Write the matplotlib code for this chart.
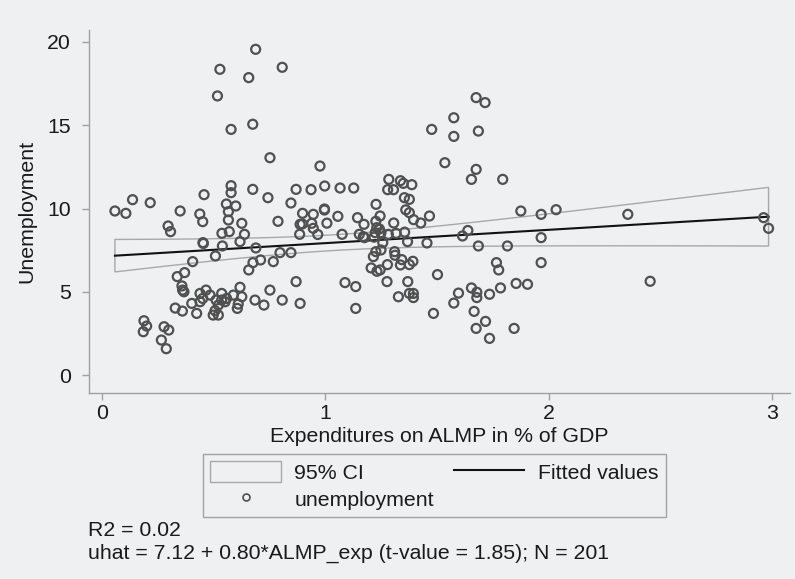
import numpy as np
import matplotlib
matplotlib.use("Agg")
import matplotlib.pyplot as plt
from matplotlib.patches import Polygon, Rectangle
from matplotlib.lines import Line2D

# ---- data ----
almp_exp = [
    0.688, 0.528, 0.657, 0.517, 0.675, 0.578, 0.752, 0.578, 0.578, 0.675,
    0.457, 0.137, 0.216, 0.743, 0.058, 0.107, 0.350, 0.557, 0.599, 0.438,
    0.451, 0.566, 0.566, 0.626, 0.296, 0.307, 0.537, 0.570, 0.638, 0.618,
    0.452, 0.454, 0.539, 0.689, 0.508, 0.406, 0.676, 0.710, 0.657, 0.337,
    0.370, 0.358, 0.361, 0.367, 0.752, 0.466, 0.439, 0.451, 0.439, 0.402,
    0.484, 0.536, 0.511, 0.536, 0.558, 0.521, 0.506, 0.498, 0.521, 0.424,
    0.618, 0.588, 0.626, 0.610, 0.606, 0.685, 0.725, 0.328, 0.360, 0.188,
    0.200, 0.185, 0.278, 0.299, 0.266, 0.288, 0.767, 0.797, 0.788, 0.807,
    0.807, 1.476, 0.976, 0.869, 0.936, 0.997, 1.066, 1.127, 0.846, 0.898,
    0.946, 0.996, 0.996, 1.056, 1.144, 1.227, 1.284, 1.279, 1.305, 1.336,
    1.349, 1.387, 1.354, 1.376, 1.360, 1.376, 1.395, 1.427, 1.466, 0.887,
    0.897, 0.939, 0.946, 1.007, 0.885, 0.966, 1.075, 1.152, 1.175, 1.173,
    1.226, 1.245, 1.230, 1.242, 1.249, 1.223, 1.282, 1.306, 1.317, 1.355,
    1.170, 1.218, 1.368, 1.455, 1.257, 1.249, 1.226, 1.215, 1.310, 1.312,
    1.342, 1.392, 1.205, 1.245, 1.231, 1.278, 1.336, 1.376, 1.502, 0.846,
    0.869, 1.088, 1.136, 1.276, 1.369, 0.887, 1.136, 1.327, 1.376, 1.394,
    1.394, 1.484, 1.675, 1.715, 1.575, 1.575, 1.685, 1.535, 1.675, 1.654,
    1.794, 1.875, 1.966, 2.033, 2.354, 1.638, 1.614, 1.685, 1.815, 1.966,
    1.766, 1.776, 1.966, 1.854, 1.905, 1.596, 1.654, 1.678, 1.678, 1.735,
    1.784, 1.575, 1.666, 1.717, 1.675, 1.845, 1.735, 2.962, 2.984, 2.454,
    0.551,
]
unemployment = [
    19.56, 18.36, 17.86, 16.76, 15.06, 14.75, 13.05, 11.37, 10.95, 11.15,
    10.83, 10.53, 10.35, 10.65, 9.85, 9.71, 9.85, 10.27, 10.15, 9.67,
    9.21, 9.81, 9.31, 9.11, 8.95, 8.61, 8.51, 8.61, 8.45, 8.01,
    7.95, 7.90, 7.75, 7.63, 7.15, 6.81, 6.75, 6.91, 6.31, 5.91,
    6.15, 5.35, 5.10, 5.00, 5.10, 5.10, 4.90, 4.60, 4.40, 4.30,
    4.80, 4.90, 4.50, 4.50, 4.60, 4.20, 3.86, 3.60, 3.60, 3.70,
    5.27, 4.80, 4.70, 4.26, 4.00, 4.50, 4.20, 4.02, 3.84, 3.26,
    2.94, 2.60, 2.90, 2.70, 2.10, 1.58, 6.81, 7.35, 9.23, 18.48,
    4.50, 14.75, 12.55, 11.15, 11.13, 11.35, 11.23, 11.23, 10.33, 9.71,
    9.65, 9.91, 9.97, 9.53, 9.45, 10.25, 11.75, 11.13, 11.13, 11.67,
    11.51, 11.43, 10.65, 10.55, 9.92, 9.75, 9.33, 9.13, 9.55, 9.05,
    9.07, 9.11, 8.81, 9.12, 8.45, 8.44, 8.45, 8.45, 8.25, 9.05,
    9.23, 9.55, 8.85, 8.77, 8.55, 8.55, 8.45, 9.13, 8.51, 8.58,
    8.31, 8.28, 8.01, 7.93, 7.95, 7.51, 7.41, 7.11, 7.41, 7.19,
    6.93, 6.83, 6.43, 6.31, 6.23, 6.63, 6.61, 6.63, 6.03, 7.35,
    5.61, 5.55, 5.31, 5.61, 5.61, 4.30, 4.00, 4.70, 4.90, 4.90,
    4.65, 3.70, 16.66, 16.36, 15.45, 14.33, 14.65, 12.75, 12.35, 11.75,
    11.75, 9.85, 9.65, 9.93, 9.65, 8.68, 8.35, 7.75, 7.75, 8.25,
    6.75, 6.31, 6.75, 5.50, 5.45, 4.92, 5.23, 4.97, 4.65, 4.85,
    5.23, 4.32, 3.82, 3.22, 2.80, 2.80, 2.20, 9.45, 8.81, 5.63,
    4.40,
]
intercept = 7.12
slope = 0.80
x_ticks = [0, 1, 2, 3]
y_ticks = [0, 5, 10, 15, 20]
note_lines = ["R2 = 0.02",
              "uhat = 7.12 + 0.80*ALMP_exp (t-value = 1.85); N = 201"]

x = np.array(almp_exp)
y = np.array(unemployment)
n = len(x)

# fitted line and 95% CI of the mean prediction
xg = np.linspace(x.min(), x.max(), 200)
fit = intercept + slope * xg
resid = y - (intercept + slope * x)
s = np.sqrt(np.sum(resid ** 2) / (n - 2))
sxx = np.sum((x - x.mean()) ** 2)
se = s * np.sqrt(1.0 / n + (xg - x.mean()) ** 2 / sxx)
tcrit = 1.972
lo = fit - tcrit * se
hi = fit + tcrit * se

BG = "#eff0f2"
TXT = "#1a1a1a"
FONT = "Liberation Sans"
FS = 15.3
plt.rcParams["font.family"] = [FONT, "DejaVu Sans"]

fig = plt.figure(figsize=(7.95, 5.79), dpi=100, facecolor=BG)
ax = fig.add_axes([89 / 795, 1 - 393 / 579, (790 - 89) / 795, (393 - 30) / 579])
ax.set_facecolor(BG)

poly = Polygon(np.column_stack([np.r_[xg, xg[::-1]], np.r_[hi, lo[::-1]]]),
               closed=True, facecolor="none", edgecolor="#a8a8a8", lw=1.0, zorder=2)
ax.add_patch(poly)
ax.plot(xg, fit, color="#111111", lw=1.5, zorder=3)
ax.scatter(x, y, s=42, facecolors="none", edgecolors="#505050", linewidths=1.6, zorder=4)

ax.set_xlim(-0.058, 3.08)
ax.set_ylim(-1.08, 20.72)
ax.set_xticks(x_ticks)
ax.set_yticks(y_ticks)
ax.set_xticklabels([str(v) for v in x_ticks])
ax.set_yticklabels([str(v) for v in y_ticks])
for sp in ["top", "right"]:
    ax.spines[sp].set_visible(False)
for sp in ["left", "bottom"]:
    ax.spines[sp].set_color("#a0a0a0")
    ax.spines[sp].set_linewidth(1.0)
ax.tick_params(axis="both", direction="out", length=5, width=1.0, color="#a0a0a0",
               labelsize=FS, labelcolor=TXT)
ax.tick_params(axis="y", pad=8)
ax.tick_params(axis="x", pad=3)
ax.set_xlabel("Expenditures on ALMP in % of GDP", fontsize=FS, color=TXT, labelpad=3)
ax.set_ylabel("Unemployment", fontsize=FS, color=TXT, labelpad=8)

h_ci = Rectangle((0, 0), 1, 1, facecolor="none", edgecolor="#a8a8a8", lw=1.0)
h_pt = Line2D([], [], marker="o", ls="none", markersize=5, markerfacecolor="none",
              markeredgecolor="#505050", markeredgewidth=1.2)
h_fit = Line2D([], [], color="#111111", lw=1.5)
leg = fig.legend([h_ci, h_pt, h_fit], ["95% CI", "unemployment", "Fitted values"],
                 ncol=2, loc="upper left", bbox_to_anchor=(203 / 795, 1 - 454 / 579),
                 frameon=True, fancybox=False, fontsize=FS, handlelength=3.3,
                 handleheight=1.1, handletextpad=0.65, columnspacing=0.95,
                 borderpad=0.35, labelspacing=0.25, borderaxespad=0)
leg.get_frame().set_edgecolor("#909090")
leg.get_frame().set_facecolor(BG)
leg.get_frame().set_linewidth(1.0)
for t in leg.get_texts():
    t.set_color(TXT)

fig.text(88 / 795, 1 - 531 / 579, note_lines[0], fontsize=FS, color=TXT, va="center")
fig.text(88 / 795, 1 - 553 / 579, note_lines[1], fontsize=FS, color=TXT, va="center")

fig.savefig("out.png", dpi=100, facecolor=BG)
